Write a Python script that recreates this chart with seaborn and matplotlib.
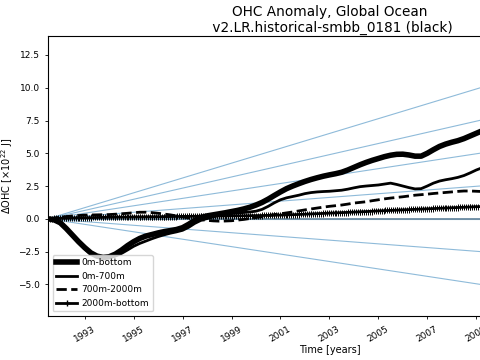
import numpy as np
import matplotlib
matplotlib.use('Agg')
import matplotlib.pyplot as plt
from matplotlib.path import Path
from matplotlib.lines import Line2D
import seaborn as sns

# quarterly sampling of the three smooth curves
years_q = np.arange(1991.5, 2009.51, 0.25)

ohc_0m_bottom = [0.0, -0.08, -0.3, -0.75, -1.25, -1.75, -2.2, -2.6, -2.85, -2.95,
                 -2.9, -2.7, -2.4, -2.05, -1.75, -1.5, -1.32, -1.2, -1.08, -0.98,
                 -0.9, -0.82, -0.68, -0.42, -0.12, 0.1, 0.22, 0.3, 0.38, 0.46,
                 0.55, 0.64, 0.75, 0.88, 1.05, 1.25, 1.5, 1.78, 2.05, 2.3,
                 2.5, 2.68, 2.85, 3.0, 3.13, 3.25, 3.35, 3.44, 3.55, 3.72,
                 3.92, 4.12, 4.3, 4.46, 4.6, 4.74, 4.85, 4.92, 4.93, 4.87,
                 4.78, 4.78, 5.0, 5.27, 5.52, 5.7, 5.84, 5.96, 6.12, 6.32,
                 6.52, 6.72, 6.85]
ohc_0m_700m = [0.0, -0.1, -0.35, -0.8, -1.3, -1.82, -2.3, -2.68, -2.9, -3.0,
               -2.97, -2.85, -2.65, -2.38, -2.1, -1.88, -1.7, -1.52, -1.36, -1.22,
               -1.1, -1.0, -0.88, -0.65, -0.35, -0.12, 0.02, 0.15, 0.27, 0.35,
               0.4, 0.44, 0.48, 0.52, 0.58, 0.72, 0.95, 1.22, 1.45, 1.6,
               1.7, 1.8, 1.92, 2.0, 2.05, 2.08, 2.1, 2.14, 2.18, 2.26,
               2.36, 2.45, 2.5, 2.54, 2.58, 2.65, 2.72, 2.62, 2.5, 2.38,
               2.28, 2.3, 2.5, 2.72, 2.88, 2.98, 3.06, 3.16, 3.3, 3.5,
               3.72, 3.9, 4.02]
ohc_700m_2000m = [0.0, 0.06, 0.12, 0.17, 0.22, 0.25, 0.28, 0.29, 0.3, 0.31,
                  0.32, 0.35, 0.38, 0.42, 0.46, 0.5, 0.5, 0.47, 0.42, 0.36,
                  0.3, 0.22, 0.15, 0.07, 0.0, -0.07, -0.12, -0.16, -0.18, -0.17,
                  -0.15, -0.1, -0.05, 0.02, 0.1, 0.17, 0.25, 0.32, 0.38, 0.45,
                  0.52, 0.6, 0.68, 0.75, 0.82, 0.89, 0.95, 1.0, 1.05, 1.12,
                  1.2, 1.25, 1.3, 1.38, 1.45, 1.52, 1.58, 1.63, 1.68, 1.74,
                  1.8, 1.84, 1.88, 1.93, 1.97, 2.01, 2.05, 2.09, 2.12, 2.12,
                  2.1, 2.08, 2.05]

# half-yearly sampling of the deep-ocean curve
years_h = np.arange(1991.5, 2009.51, 0.5)
ohc_2000m_bottom = [0.0, 0.03, 0.06, 0.08, 0.1, 0.12, 0.13, 0.14, 0.15,
                    0.16, 0.17, 0.18, 0.19, 0.2, 0.21, 0.22, 0.23, 0.24,
                    0.26, 0.28, 0.31, 0.35, 0.39, 0.43, 0.47, 0.51, 0.55,
                    0.6, 0.64, 0.68, 0.72, 0.76, 0.8, 0.84, 0.88, 0.92,
                    0.95]

labels = ['0m-bottom', '0m-700m', '700m-2000m', '2000m-bottom']

# constant heating-rate reference lines, from (start, 0) to (ref_end_year, value)
ref_start_year = 1991.5
ref_end_year = 2015.0
ref_end_values = [13.3, 10.0, 6.66, 3.33, 0.0, -3.33, -6.66]

# comb marker so the dense monthly '+' markers of the original read as a band
verts, codes = [], []
for tx in np.linspace(-1, 1, 7):
    verts += [(tx, -0.45), (tx, 0.45)]
    codes += [Path.MOVETO, Path.LINETO]
comb = Path(verts, codes)

fig = plt.figure(figsize=(4.8, 3.6), dpi=100)
ax = fig.add_axes([0.1, 0.1222, 1.175, 0.7778])

for v in ref_end_values:
    sns.lineplot(x=[ref_start_year, ref_end_year], y=[0.0, v], ax=ax,
                 color='#1f77b4', alpha=0.5, lw=0.8)
sns.lineplot(x=[ref_start_year, ref_end_year], y=[0.0, 0.0], ax=ax,
             color='#6d8ca2', lw=1.3)

sns.lineplot(x=years_q, y=ohc_0m_bottom, ax=ax, color='k', lw=4)
sns.lineplot(x=years_q, y=ohc_0m_700m, ax=ax, color='k', lw=2)
sns.lineplot(x=years_q, y=ohc_700m_2000m, ax=ax, color='k', lw=2, linestyle='--')
sns.lineplot(x=years_h, y=ohc_2000m_bottom, ax=ax, color='k', lw=2,
             marker=comb, markersize=8.8, markeredgewidth=0.7,
             markeredgecolor='k', markerfacecolor='none')

handles = [Line2D([], [], color='k', lw=4),
           Line2D([], [], color='k', lw=2),
           Line2D([], [], color='k', lw=2, linestyle='--'),
           Line2D([], [], color='k', lw=2, marker='+', markersize=5)]
ax.legend(handles, labels, loc='lower left', fontsize=6.5,
          handlelength=2.3, handletextpad=0.5)

ax.set_xlim(1991.5, 2014.55)
ax.set_ylim(-7.42, 13.95)
ax.set_xticks(np.arange(1993, 2015, 2))
ax.set_yticks(np.arange(-5, 13, 2.5))
ax.tick_params(labelsize=6.5, length=2.5, width=0.6)
plt.setp(ax.get_xticklabels(), rotation=30)

ax.set_xlabel('Time [years]', fontsize=7, labelpad=1)
ax.set_ylabel(r'$\Delta$OHC [$\times 10^{22}$ J]', fontsize=7, labelpad=2)
ax.set_title('OHC Anomaly, Global Ocean\n v2.LR.historical-smbb_0181 (black)',
             fontsize=9.8, pad=3)

fig.savefig('out.png', dpi=100)
